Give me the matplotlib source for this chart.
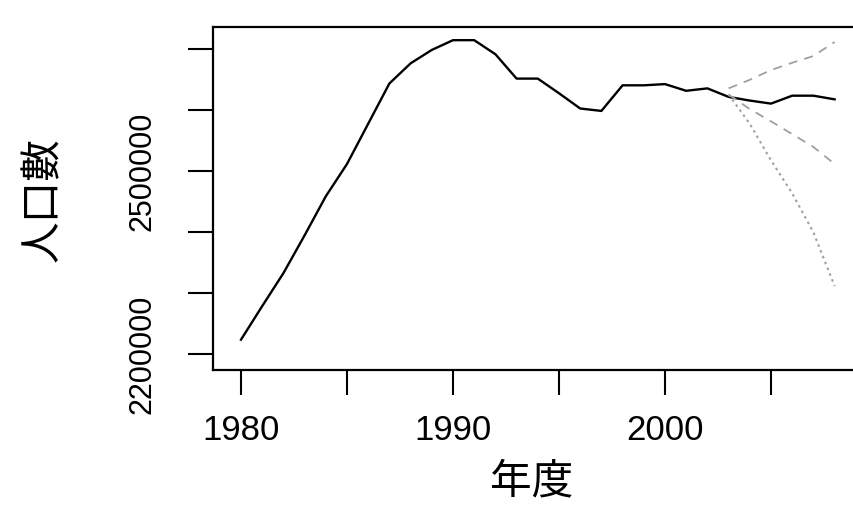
import matplotlib
matplotlib.use("Agg")
import matplotlib.pyplot as plt

# observed population
years = list(range(1980, 2009))
population = [2224000, 2279000, 2333000, 2395000, 2459000, 2512000, 2578000,
              2644000, 2677000, 2699000, 2715000, 2715000, 2692000, 2652000,
              2652000, 2628000, 2603000, 2599000, 2641000, 2641000, 2643000,
              2632000, 2636000, 2622000, 2616000, 2611000, 2624000, 2624000,
              2618000]

# forecast lines (gray)
fc_years = [2003, 2004, 2005, 2006, 2007, 2008]
fc_high = [2636000, 2650000, 2666000, 2678000, 2689000, 2712000]
fc_mid = [2626000, 2602000, 2582000, 2561000, 2540000, 2512000]
fc_low = [2626000, 2578000, 2518000, 2464000, 2400000, 2312000]

x_ticks = [1980, 1985, 1990, 1995, 2000, 2005]
x_labels = ["1980", "", "1990", "", "2000", ""]
y_ticks = [2200000, 2300000, 2400000, 2500000, 2600000, 2700000]
y_labels = ["2200000", "", "", "2500000", "", ""]

W, H = 854, 518
fig = plt.figure(figsize=(W / 100, H / 100), dpi=100)
# box goes past the right edge of the picture, like the reference
left, right, top, bottom = 213, 870, 27, 370
ax = fig.add_axes([left / W, 1 - bottom / H, (right - left) / W, (bottom - top) / H])

ax.plot(years, population, color="black", lw=1.7)
ax.plot(fc_years, fc_high, color="#a0a0a0", lw=1.3, ls=(0, (5, 4)))
ax.plot(fc_years, fc_mid, color="#a0a0a0", lw=1.3, ls=(0, (5, 4)))
ax.plot(fc_years, fc_low, color="#a0a0a0", lw=1.5, ls=(0, (1.2, 1.8)))

ax.set_xlim(1978.68, 2009.67)
ax.set_ylim(2174300, 2736600)

tick_font = {"family": ["Liberation Sans", "DejaVu Sans"], "size": 25}
ax.set_xticks(x_ticks)
ax.set_xticklabels(x_labels, fontdict=tick_font)
ax.set_yticks(y_ticks)
ax.set_yticklabels(y_labels, rotation=90, va="center",
                   fontdict={"family": ["Liberation Sans Narrow", "Liberation Sans", "DejaVu Sans"], "size": 22})
ax.tick_params(axis="x", length=18, width=1.5, pad=14, color="black")
ax.tick_params(axis="y", length=18, width=1.5, pad=22, color="black")

for sp in ax.spines.values():
    sp.set_linewidth(1.6)
    sp.set_color("black")

cjk = ["Noto Sans CJK JP", "DejaVu Sans"]
fig.text(532 / W, 1 - 482 / H, "年度", family=cjk, fontsize=30, ha="center", va="center")
fig.text(44 / W, 1 - 200 / H, "人口數", family=cjk, fontsize=30, rotation=90,
         ha="center", va="center")

fig.savefig("out.png", dpi=100)
